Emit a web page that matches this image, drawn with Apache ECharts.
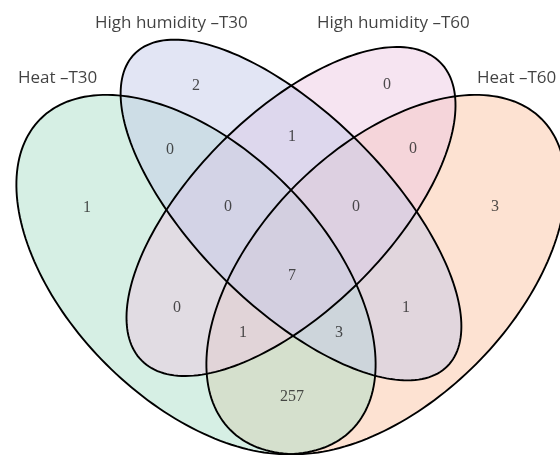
<!DOCTYPE html>
<html>
<head>
<meta charset="utf-8">
<script src="https://cdn.jsdelivr.net/npm/echarts@6/dist/echarts.min.js"></script>
<style>
  html,body{margin:0;padding:0;background:#fff;}
  #chart{width:560px;height:456px;}
</style>
</head>
<body>
<div id="chart"></div>
<script>
  // 集合名称 & 各区域计数
  const setNames = ['Heat –T30', 'High humidity –T30', 'High humidity –T60', 'Heat –T60']
  const regionKeys = ['A', 'B', 'C', 'D', 'AB', 'BC', 'CD', 'ABC', 'BCD', 'ABCD', 'AC', 'BD', 'ACD', 'ABD', 'AD']
  const regionCounts = [1, 2, 0, 3, 0, 1, 0, 0, 0, 7, 0, 1, 1, 3, 257]

  // layout (pixel space, y down) - cx, cy, a, b, angle
  const ellipses = [
    [196, 274.5, 220, 127, 45],
    [291, 210, 221, 96, 45],
    [291, 211.5, 211, 98, -45],
    [386, 274.5, 220, 127, -45]
  ]
  const fillColors = ['#addfc9', '#c5cbe9', '#edc9e3', '#fbc6a6']
  const drawOrder = [3, 0, 2, 1]
  const labelSpots = {
    A: [87, 208], B: [196, 86], C: [387, 85], D: [495, 207],
    AB: [170, 150], BC: [292, 137], CD: [413, 149],
    ABC: [228, 207], BCD: [356, 207], ABCD: [292, 276],
    AC: [177, 308], BD: [406, 308], ACD: [243, 333], ABD: [339, 333], AD: [292, 397]
  }
  const namePos = [[18, 78], [95, 23], [317, 23], [477, 78]]

  let chartInstance = echarts.init(document.getElementById('chart'))

  function ellipsePoints(api, e) {
    const pts = []
    const t = e[4] * Math.PI / 180
    for (let i = 0; i < 200; i++) {
      const s = i / 200 * Math.PI * 2
      const x = e[2] * Math.cos(s), y = e[3] * Math.sin(s)
      pts.push(api.coord([e[0] + x * Math.cos(t) - y * Math.sin(t), e[1] + x * Math.sin(t) + y * Math.cos(t)]))
    }
    return pts
  }

  function renderFill(params, api) {
    const e = [0, 1, 2, 3, 4].map(k => api.value(k))
    return {
      type: 'polygon',
      shape: { points: ellipsePoints(api, e) },
      style: { fill: fillColors[api.value(5)], opacity: 0.5 }
    }
  }
  function renderLine(params, api) {
    const e = [0, 1, 2, 3, 4].map(k => api.value(k))
    return {
      type: 'polygon',
      shape: { points: ellipsePoints(api, e) },
      style: { fill: 'none', stroke: '#000', lineWidth: 1.9 }
    }
  }

  const ellipseData = drawOrder.map(i => [...ellipses[i], i])

  const option = {
    animation: false,
    grid: { left: 0, right: 0, top: 0, bottom: 0 },
    xAxis: { type: 'value', min: 0, max: 560, show: false },
    yAxis: { type: 'value', min: 0, max: 456, inverse: true, show: false },
    series: [
      { type: 'custom', renderItem: renderFill, data: ellipseData, z: 1, silent: true },
      { type: 'custom', renderItem: renderLine, data: ellipseData, z: 2, silent: true },
      {
        type: 'scatter',
        symbolSize: 0,
        z: 3,
        silent: true,
        data: regionKeys.map((k, i) => [labelSpots[k][0], labelSpots[k][1], regionCounts[i]]),
        label: {
          show: true,
          position: 'inside',
          formatter: p => p.value[2],
          fontFamily: 'Liberation Serif',
          fontSize: 16,
          color: '#222'
        }
      },
      {
        type: 'scatter',
        symbolSize: 0,
        z: 3,
        silent: true,
        data: setNames.map((n, i) => [namePos[i][0], namePos[i][1], n]),
        label: {
          show: true,
          position: 'inside',
          align: 'left',
          formatter: p => p.value[2],
          fontFamily: 'Open Sans',
          fontSize: 17,
          color: '#111'
        }
      }
    ]
  }
  chartInstance.setOption(option)
</script>
</body>
</html>
